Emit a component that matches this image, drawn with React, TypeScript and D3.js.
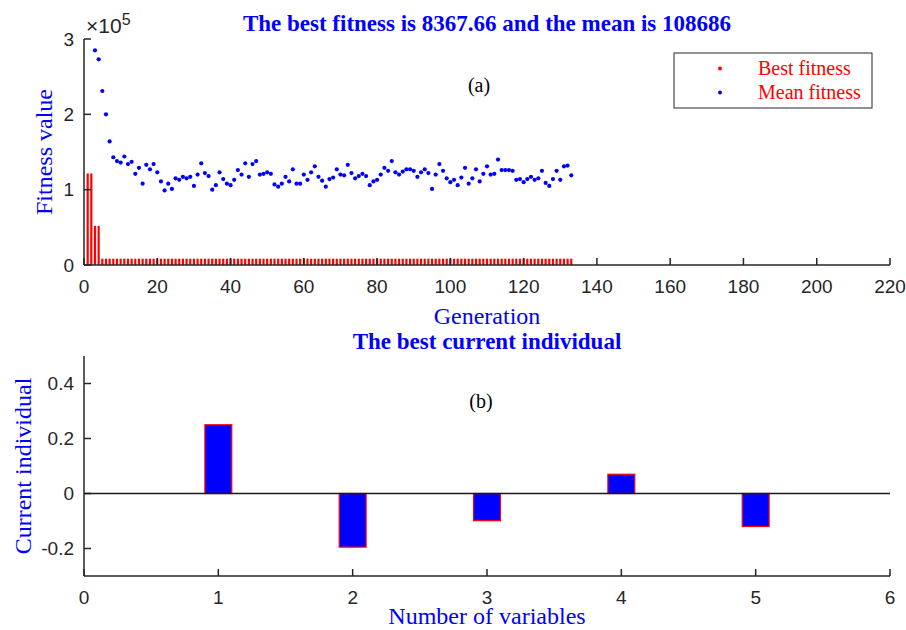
import * as d3 from "d3";

// Best fitness per generation, as runs of [generation count, value]
const bestFitnessRuns: [number, number][] = [
  [2, 121500],
  [2, 52000],
  [129, 8367.66],
];

// Mean fitness per generation (generations 1..133); the first two lie above the axis limit
const meanFitness = [
  420000, 340000, 285000, 273000, 231000, 200000, 164000, 143000, 138000, 136000,
  144000, 134000, 137000, 121000, 129000, 108000, 133000, 127000, 134000, 123000,
  111000, 99000, 108000, 101000, 115000, 113000, 117000, 115000, 117000, 105000,
  120000, 135000, 122000, 118000, 100000, 106000, 123000, 114000, 108000, 106000,
  113000, 126000, 120000, 135000, 117000, 134000, 138000, 120000, 121000, 123000,
  121000, 107000, 104000, 108000, 117000, 111000, 127000, 108000, 108000, 120000,
  113000, 123000, 131000, 117000, 112000, 104000, 114000, 116000, 127000, 120000,
  119000, 133000, 122000, 115000, 118000, 121000, 118000, 106000, 111000, 113000,
  120000, 129000, 125000, 138000, 123000, 120000, 124000, 127000, 127000, 125000,
  117000, 123000, 127000, 122000, 101000, 120000, 134000, 125000, 115000, 110000,
  113000, 106000, 116000, 129000, 108000, 115000, 127000, 111000, 121000, 131000,
  120000, 121000, 140000, 126000, 126000, 126000, 125000, 113000, 114000, 110000,
  114000, 117000, 113000, 115000, 125000, 109000, 105000, 114000, 125000, 113000,
  131000, 132000, 119000,
];

const bestIndividual = [0.25, -0.195, -0.099, 0.07, -0.12];
const variableIndex = [1, 2, 3, 4, 5];

const genTicks = [0, 20, 40, 60, 80, 100, 120, 140, 160, 180, 200, 220];
const fitnessTicks = [0, 100000, 200000, 300000];
const varTicks = [0, 1, 2, 3, 4, 5, 6];
const indivTicks = [-0.2, 0, 0.2, 0.4];

const AXIS = "#262626";
const BLUE = "#0000ff";
const RED = "#ff0000";
const SANS = "'Liberation Sans', Arial, sans-serif";
const SERIF = "'Liberation Serif', 'Times New Roman', serif";

export default function App() {
  const left = 84;
  const right = 890;

  const bestFitness: number[] = bestFitnessRuns.flatMap(([n, v]) => Array(n).fill(v));

  // top panel
  const xA = d3.scaleLinear().domain([0, 220]).range([left, right]);
  const yA = d3.scaleLinear().domain([0, 300000]).range([265, 39]);
  // bottom panel
  const xB = d3.scaleLinear().domain([0, 6]).range([left, right]);
  const yB = d3.scaleLinear().domain([-0.3, 0.5]).range([576, 356]);

  const tick = 7;
  const barW = 0.6;
  const indivW = 0.2;

  return (
    <svg
      width={906}
      height={630}
      style={{ position: "absolute", left: 0, top: 0, background: "#fff" }}
    >
      <defs>
        <clipPath id="clipA">
          <rect x={left} y={yA(300000)} width={right - left} height={yA(0) - yA(300000)} />
        </clipPath>
      </defs>

      {/* ---------- (a) fitness panel ---------- */}
      <g clipPath="url(#clipA)">
        {bestFitness.map((v, i) => (
          <rect
            key={"b" + i}
            x={xA(i + 1 - barW / 2)}
            y={yA(v)}
            width={xA(barW) - xA(0)}
            height={yA(0) - yA(v)}
            fill={RED}
          />
        ))}
        {meanFitness.map((v, i) => (
          <circle key={"m" + i} cx={xA(i + 1)} cy={yA(v)} r={2.1} fill={BLUE} />
        ))}
      </g>

      <g stroke={AXIS} strokeWidth={1.5} fill="none">
        <line x1={left} x2={right} y1={yA(0)} y2={yA(0)} />
        <line x1={left} x2={left} y1={yA(0)} y2={yA(300000)} />
        {genTicks.map((t) => (
          <line key={t} x1={xA(t)} x2={xA(t)} y1={yA(0)} y2={yA(0) - tick} />
        ))}
        {fitnessTicks.map((t) => (
          <line key={t} x1={left} x2={left + tick} y1={yA(t)} y2={yA(t)} />
        ))}
      </g>
      <g fontFamily={SANS} fontSize={19} fill={AXIS}>
        {genTicks.map((t) => (
          <text key={t} x={xA(t)} y={yA(0) + 27.5} textAnchor="middle">
            {t}
          </text>
        ))}
        {fitnessTicks.map((t) => (
          <text key={t} x={left - 10} y={yA(t)} dy="0.35em" textAnchor="end">
            {t / 100000}
          </text>
        ))}
        <text x={left + 2} y={yA(300000) - 6} fontSize={21}>
          <tspan fontWeight={300}>×</tspan>
          <tspan>10</tspan>
          <tspan fontSize={16} dy={-8}>5</tspan>
        </text>
      </g>

      <text
        x={(left + right) / 2}
        y={31}
        textAnchor="middle"
        fontFamily={SERIF}
        fontWeight="bold"
        fontSize={23}
        fill={BLUE}
      >
        The best fitness is 8367.66 and the mean is 108686
      </text>
      <text x={479} y={92} textAnchor="middle" fontFamily={SERIF} fontSize={20} fill="#000">
        (a)
      </text>
      <text
        x={(left + right) / 2}
        y={324}
        textAnchor="middle"
        fontFamily={SERIF}
        fontSize={24}
        fill={BLUE}
      >
        Generation
      </text>
      <text
        transform={`translate(52,${(yA(0) + yA(300000)) / 2}) rotate(-90)`}
        textAnchor="middle"
        fontFamily={SERIF}
        fontSize={24}
        fill={BLUE}
      >
        Fitness value
      </text>

      {/* legend */}
      <rect x={674} y={53} width={198} height={55} fill="#fff" stroke={AXIS} strokeWidth={1} />
      <circle cx={720} cy={68.5} r={2} fill={RED} />
      <circle cx={720} cy={92.5} r={2} fill={BLUE} />
      <g fontFamily={SERIF} fontSize={20} fill={RED}>
        <text x={758} y={75}>Best fitness</text>
        <text x={758} y={99}>Mean fitness</text>
      </g>

      {/* ---------- (b) best individual panel ---------- */}
      {bestIndividual.map((v, i) => (
        <rect
          key={"v" + i}
          x={xB(variableIndex[i] - indivW / 2)}
          y={yB(Math.max(v, 0))}
          width={xB(indivW) - xB(0)}
          height={Math.abs(yB(v) - yB(0))}
          fill={BLUE}
          stroke={RED}
          strokeWidth={1.2}
        />
      ))}

      <g stroke={AXIS} strokeWidth={1.5} fill="none">
        <line x1={left} x2={right} y1={yB(-0.3)} y2={yB(-0.3)} />
        <line x1={left} x2={left} y1={yB(-0.3)} y2={yB(0.5)} />
        {varTicks.map((t) => (
          <line key={t} x1={xB(t)} x2={xB(t)} y1={yB(-0.3)} y2={yB(-0.3) - tick} />
        ))}
        {indivTicks.map((t) => (
          <line key={t} x1={left} x2={left + tick} y1={yB(t)} y2={yB(t)} />
        ))}
      </g>
      <line x1={left} x2={right} y1={yB(0)} y2={yB(0)} stroke="#1a1a1a" strokeWidth={1.6} />
      <g fontFamily={SANS} fontSize={19} fill={AXIS}>
        {varTicks.map((t) => (
          <text key={t} x={xB(t)} y={yB(-0.3) + 27.5} textAnchor="middle">
            {t}
          </text>
        ))}
        {indivTicks.map((t) => (
          <text key={t} x={left - 10} y={yB(t)} dy="0.35em" textAnchor="end">
            {t}
          </text>
        ))}
      </g>

      <text
        x={(left + right) / 2}
        y={349}
        textAnchor="middle"
        fontFamily={SERIF}
        fontWeight="bold"
        fontSize={23}
        fill={BLUE}
      >
        The best current individual
      </text>
      <text x={481} y={408} textAnchor="middle" fontFamily={SERIF} fontSize={20} fill="#000">
        (b)
      </text>
      <text
        x={(left + right) / 2}
        y={624}
        textAnchor="middle"
        fontFamily={SERIF}
        fontSize={24}
        fill={BLUE}
      >
        Number of variables
      </text>
      <text
        transform={`translate(30.5,${(yB(-0.3) + yB(0.5)) / 2}) rotate(-90)`}
        textAnchor="middle"
        fontFamily={SERIF}
        fontSize={24}
        fill={BLUE}
      >
        Current individual
      </text>
    </svg>
  );
}
